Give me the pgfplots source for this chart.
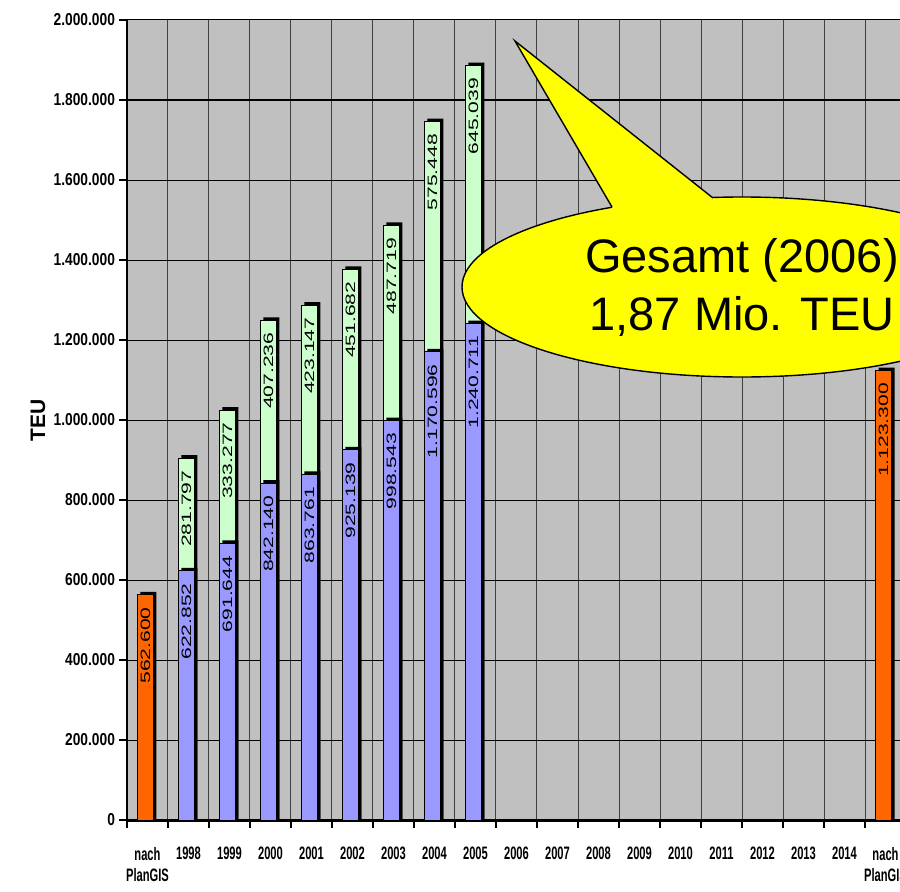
\documentclass[border=0pt]{standalone}
\usepackage{fontspec}
\setmainfont{Liberation Sans}
\usepackage{graphicx}
\usepackage{pgfplots}
\usepackage{pgfplotstable}
\pgfplotsset{compat=1.18}
\definecolor{bgray}{HTML}{C0C0C0}
\definecolor{barblue}{HTML}{9999FF}
\definecolor{bargreen}{HTML}{CCFFCC}
\definecolor{barorange}{HTML}{FF6600}
\definecolor{callyellow}{HTML}{FFFF00}

\pgfplotstableread{
x b g
1 622852 281797
2 691644 333277
3 842140 407236
4 863761 423147
5 925139 451682
6 998543 487719
7 1170596 575448
8 1240711 645039
}\stacked
\pgfplotstableread{
x o
0 562600
18 1123300
}\orangetab

\begin{document}
\begin{tikzpicture}
\path[use as bounding box] (-63.5pt,-35.5pt) rectangle (386.5pt,410pt);
\clip (-63.5pt,-35.5pt) rectangle (386.5pt,410pt);
\begin{axis}[
  at={(0pt,0pt)}, anchor=south west,
  scale only axis, width=389.5pt, height=400pt,
  xmin=-0.5, xmax=18.5, ymin=0, ymax=2000000,
  axis background/.style={fill=bgray},
  axis lines*=left,
  x axis line style={line width=1.5pt},
  y axis line style={line width=0.6pt},
  tick align=outside, major tick length=4pt,
  tick style={black, line width=0.6pt},
  xtick={-0.5,0.5,1.5,2.5,3.5,4.5,5.5,6.5,7.5,8.5,9.5,10.5,11.5,12.5,13.5,14.5,15.5,16.5,17.5},
  xticklabels={{nach\\PlanGIS},1998,1999,2000,2001,2002,2003,2004,2005,2006,2007,2008,2009,2010,2011,2012,2013,2014,{nach\\PlanGIS}},
  xticklabel style={xshift=10.25pt, yshift=-6pt, xscale=0.62, align=center, font=\fontsize{9}{10.5}\selectfont\bfseries},
  ytick={0,200000,400000,600000,800000,1000000,1200000,1400000,1600000,1800000,2000000},
  scaled y ticks=false,
  yticklabel={\scalebox{0.8}[1]{\pgfmathprintnumber[fixed,precision=0,1000 sep={.},assume math mode=true]{\tick}}},
  yticklabel style={xshift=1.5pt, font=\fontsize{8.6}{9}\selectfont\bfseries},
  xmajorgrids, ymajorgrids,
  x grid style={black!75, line width=0.5pt},
  y grid style={black, line width=0.5pt},
  ylabel={TEU},
  every axis y label/.style={at={(axis description cs:-0.1142,0.5)}, rotate=90, anchor=center, font=\fontsize{10.5}{12}\selectfont\bfseries},
  ybar, bar width=8pt,
  /pgf/number format/fixed, /pgf/number format/precision=0,
  /pgf/number format/1000 sep={.}, /pgf/number format/assume math mode=true,
]
% shadows
\addplot[fill=black, draw=none, bar shift=0.5pt] table[x=x, y expr=\thisrow{b}+\thisrow{g}+7500] {\stacked};
\addplot[fill=black, draw=none, bar shift=0.5pt] table[x=x, y expr=\thisrow{o}+7500] {\orangetab};
% green (upper) segments
\addplot[fill=bargreen, draw=black, line width=0.5pt, bar shift=-1pt,
  point meta=explicit, nodes near coords={\scalebox{1.55}[1]{\pgfmathprintnumber{\pgfplotspointmeta}}},
  every node near coord/.append style={yshift=-6pt, rotate=90, anchor=east, inner sep=0pt, font=\fontsize{6.8}{7}\selectfont, text=black}]
  table[x=x, y expr=\thisrow{b}+\thisrow{g}, meta=g] {\stacked};
% blue shadow (top face)
\addplot[fill=black, draw=none, bar shift=0.5pt] table[x=x, y expr=\thisrow{b}+7500] {\stacked};
% blue (lower) segments
\addplot[fill=barblue, draw=black, line width=0.5pt, bar shift=-1pt,
  point meta=explicit, nodes near coords={\scalebox{1.55}[1]{\pgfmathprintnumber{\pgfplotspointmeta}}},
  every node near coord/.append style={yshift=-6pt, rotate=90, anchor=east, inner sep=0pt, font=\fontsize{6.8}{7}\selectfont, text=black}]
  table[x=x, y=b, meta=b] {\stacked};
% orange bars
\addplot[fill=barorange, draw=black, line width=0.5pt, bar shift=-1pt,
  point meta=explicit, nodes near coords={\scalebox{1.55}[1]{\pgfmathprintnumber{\pgfplotspointmeta}}},
  every node near coord/.append style={yshift=-6pt, rotate=90, anchor=east, inner sep=0pt, font=\fontsize{6.8}{7}\selectfont, text=black}]
  table[x=x, y=o, meta=o] {\orangetab};
% callout
\draw[fill=callyellow, line width=0.7pt] (axis cs:14.5,1332500) ellipse [x radius=140pt, y radius=45pt];
\fill[callyellow] (axis cs:8.963,1947500) -- (axis cs:11.685,1470000) -- (axis cs:14.517,1496250) -- cycle;
\draw[line width=0.7pt] (axis cs:11.329,1532500) -- (axis cs:8.963,1947500) -- (axis cs:13.793,1555000);
\node[font=\fontsize{23.5}{29}\selectfont, align=center, inner sep=0pt] at (axis cs:14.5,1332500) {Gesamt (2006)\\1,87 Mio. TEU};
\end{axis}
\end{tikzpicture}
\end{document}
